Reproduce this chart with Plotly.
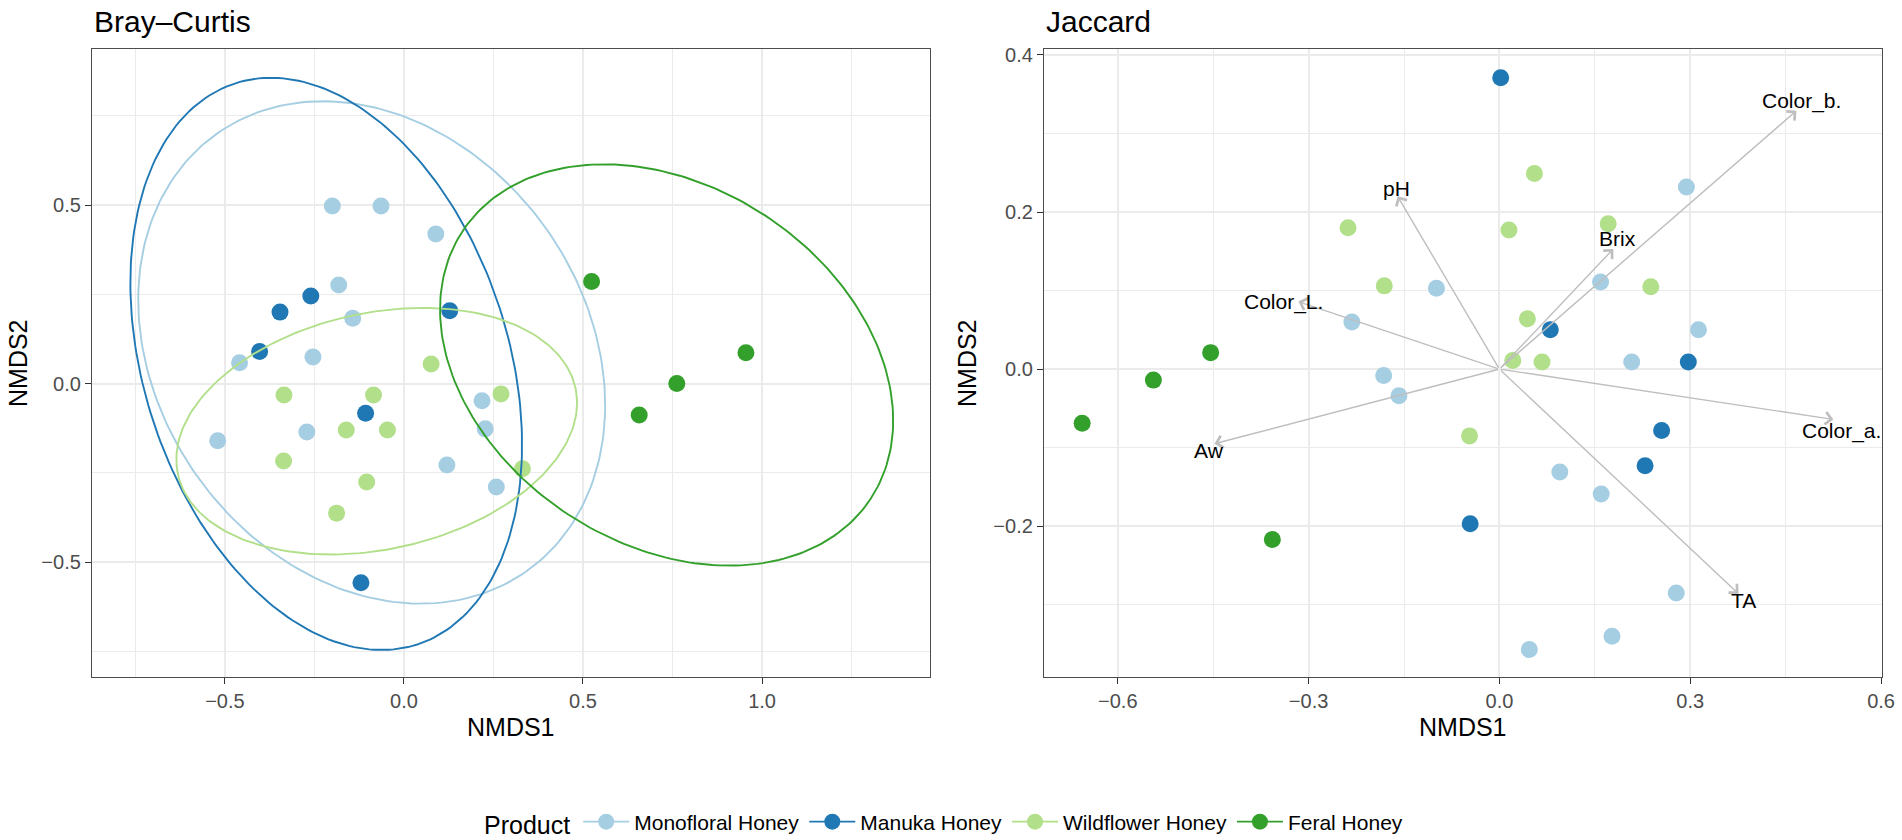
import numpy as np
import plotly.graph_objects as go

# ---------------- data ----------------
groups = ["Monofloral Honey", "Manuka Honey", "Wildflower Honey", "Feral Honey"]
colors = ["#A6CEE3", "#1F78B4", "#B2DF8A", "#33A02C"]

# Bray-Curtis NMDS scores
bc_mono_x = [-0.200, -0.064, 0.089, -0.182, -0.143, -0.459, -0.254, 0.218, 0.227, -0.520, -0.271, 0.120, 0.258]
bc_mono_y = [0.497, 0.497, 0.419, 0.276, 0.183, 0.058, 0.074, -0.048, -0.127, -0.160, -0.136, -0.228, -0.290]
bc_manuka_x = [-0.346, -0.260, -0.403, 0.128, -0.107, -0.120]
bc_manuka_y = [0.200, 0.245, 0.090, 0.204, -0.083, -0.558]
bc_wild_x = [0.076, -0.335, -0.085, 0.271, -0.161, -0.046, -0.336, -0.104, -0.188, 0.331]
bc_wild_y = [0.055, -0.032, -0.032, -0.029, -0.130, -0.130, -0.217, -0.276, -0.363, -0.239]
bc_feral_x = [0.524, 0.955, 0.762, 0.657]
bc_feral_y = [0.286, 0.086, 0.000, -0.088]

# 95% ellipses (center, semi-axes, rotation in degrees) per group, Bray-Curtis
ell_cx = [-0.090, -0.217, -0.076, 0.7335]
ell_cy = [0.087, 0.055, -0.1335, 0.052]
ell_a = [0.750, 0.826, 0.568, 0.682]
ell_b = [0.598, 0.509, 0.331, 0.501]
ell_angle = [-55.0, -72.1, 12.3, -33.4]

# Jaccard NMDS scores
jc_mono_x = [0.294, -0.099, 0.159, 0.313, 0.208, 0.095, 0.160, 0.278, -0.232, -0.182, -0.158, 0.047, 0.177]
jc_mono_y = [0.232, 0.103, 0.111, 0.050, 0.009, -0.131, -0.159, -0.285, 0.060, -0.008, -0.034, -0.357, -0.340]
jc_manuka_x = [0.002, 0.080, 0.297, 0.255, 0.229, -0.046]
jc_manuka_y = [0.371, 0.050, 0.009, -0.078, -0.123, -0.197]
jc_wild_x = [0.055, 0.015, 0.171, 0.238, 0.044, 0.021, 0.067, -0.047, -0.238, -0.181]
jc_wild_y = [0.249, 0.177, 0.185, 0.105, 0.064, 0.011, 0.009, -0.085, 0.180, 0.106]
jc_feral_x = [-0.454, -0.544, -0.656, -0.357]
jc_feral_y = [0.021, -0.014, -0.069, -0.217]

# environmental vectors (Jaccard)
vec_names = ["Color_b.", "Brix", "pH", "Color_L.", "Aw", "Color_a.", "TA"]
vec_x = [0.467, 0.179, -0.160, -0.316, -0.448, 0.525, 0.376]
vec_y = [0.329, 0.153, 0.220, 0.086, -0.095, -0.064, -0.286]
lab_x = [0.475, 0.185, -0.162, -0.340, -0.457, 0.538, 0.384]
lab_y = [0.341, 0.166, 0.230, 0.085, -0.104, -0.079, -0.294]

# axes
bc_xrange = [-0.871, 1.469]
bc_yrange = [-0.822, 0.937]
bc_xticks = [-0.5, 0.0, 0.5, 1.0]
bc_xticktext = ["\u22120.5", "0.0", "0.5", "1.0"]
bc_yticks = [-0.5, 0.0, 0.5]
bc_yticktext = ["\u22120.5", "0.0", "0.5"]
bc_xminor = [-0.75, -0.25, 0.25, 0.75, 1.25]
bc_yminor = [-0.75, -0.25, 0.25, 0.75]

jc_xrange = [-0.716, 0.6015]
jc_yrange = [-0.392, 0.4076]
jc_xticks = [-0.6, -0.3, 0.0, 0.3, 0.6]
jc_xticktext = ["\u22120.6", "\u22120.3", "0.0", "0.3", "0.6"]
jc_yticks = [-0.2, 0.0, 0.2, 0.4]
jc_yticktext = ["\u22120.2", "0.0", "0.2", "0.4"]
jc_xminor = [-0.45, -0.15, 0.15, 0.45]
jc_yminor = [-0.3, -0.1, 0.1, 0.3]

# ---------------- figure ----------------
W, H = 1902, 840
FONT = "Liberation Sans, Arial, Helvetica, sans-serif"
fig = go.Figure()

bc_sets = [(bc_mono_x, bc_mono_y), (bc_manuka_x, bc_manuka_y), (bc_wild_x, bc_wild_y), (bc_feral_x, bc_feral_y)]
jc_sets = [(jc_mono_x, jc_mono_y), (jc_manuka_x, jc_manuka_y), (jc_wild_x, jc_wild_y), (jc_feral_x, jc_feral_y)]

MS = 17
LW = 1.9
for i, g in enumerate(groups):
    xs, ys = bc_sets[i]
    fig.add_trace(go.Scatter(x=xs, y=ys, mode="markers", xaxis="x", yaxis="y",
                             marker=dict(size=MS, color=colors[i], line=dict(width=0)),
                             showlegend=False, legendgroup=g, hoverinfo="skip"))
for i, g in enumerate(groups):
    t = np.linspace(0, 2 * np.pi, 241)
    th = np.deg2rad(ell_angle[i])
    ex = ell_cx[i] + ell_a[i] * np.cos(t) * np.cos(th) - ell_b[i] * np.sin(t) * np.sin(th)
    ey = ell_cy[i] + ell_a[i] * np.cos(t) * np.sin(th) + ell_b[i] * np.sin(t) * np.cos(th)
    fig.add_trace(go.Scatter(x=ex, y=ey, mode="lines", xaxis="x", yaxis="y",
                             line=dict(color=colors[i], width=LW),
                             showlegend=False, legendgroup=g, hoverinfo="skip"))
for i, g in enumerate(groups):
    xs, ys = jc_sets[i]
    fig.add_trace(go.Scatter(x=xs, y=ys, mode="markers", xaxis="x2", yaxis="y2",
                             marker=dict(size=MS, color=colors[i], line=dict(width=0)),
                             showlegend=False, legendgroup=g, hoverinfo="skip"))
# legend entries (point + line key)
for i, g in enumerate(groups):
    fig.add_trace(go.Scatter(x=[None], y=[None], mode="lines+markers", name=g,
                             xaxis="x", yaxis="y",
                             marker=dict(size=MS, color=colors[i]),
                             line=dict(color=colors[i], width=LW),
                             legendgroup=g))

annotations = []
for i, n in enumerate(vec_names):
    annotations.append(dict(x=vec_x[i], y=vec_y[i], ax=0, ay=0, xref="x2", yref="y2",
                            axref="x2", ayref="y2", text="", showarrow=True,
                            arrowhead=4, arrowsize=1.7, arrowwidth=1.4,
                            arrowcolor="#BEBEBE", standoff=0, startstandoff=0))
for i, n in enumerate(vec_names):
    annotations.append(dict(x=lab_x[i], y=lab_y[i], xref="x2", yref="y2", text=n,
                            showarrow=False, xanchor="center", yanchor="middle",
                            font=dict(family=FONT, size=21, color="black")))

def px(x):
    return x / W

def py(y):
    return (H - y) / H

# titles and axis titles
annotations += [
    dict(x=px(92), y=py(21), xref="paper", yref="paper", text="Bray\u2013Curtis", showarrow=False,
         xanchor="left", yanchor="middle", font=dict(family=FONT, size=30, color="black")),
    dict(x=px(1044), y=py(21), xref="paper", yref="paper", text="Jaccard", showarrow=False,
         xanchor="left", yanchor="middle", font=dict(family=FONT, size=30, color="black")),
    dict(x=px(511), y=py(727), xref="paper", yref="paper", text="NMDS1", showarrow=False,
         xanchor="center", yanchor="middle", font=dict(family=FONT, size=25, color="black")),
    dict(x=px(1463), y=py(727), xref="paper", yref="paper", text="NMDS1", showarrow=False,
         xanchor="center", yanchor="middle", font=dict(family=FONT, size=25, color="black")),
    dict(x=px(18), y=py(363), xref="paper", yref="paper", text="NMDS2", showarrow=False,
         textangle=-90, xanchor="center", yanchor="middle", font=dict(family=FONT, size=25, color="black")),
    dict(x=px(967), y=py(363), xref="paper", yref="paper", text="NMDS2", showarrow=False,
         textangle=-90, xanchor="center", yanchor="middle", font=dict(family=FONT, size=25, color="black")),
]

GRID = "#EBEBEB"
BORDER = "#4D4D4D"

def axis(domain, rng, tickvals, ticktext, minor, anchor):
    return dict(domain=domain, range=rng, tickmode="array", tickvals=tickvals, ticktext=ticktext,
                ticks="outside", ticklen=6, tickwidth=1.3, tickcolor="#333333",
                tickfont=dict(family=FONT, size=20, color="#4D4D4D"),
                showgrid=True, gridcolor=GRID, gridwidth=1.8,
                minor=dict(tickvals=minor, showgrid=True, gridcolor=GRID, gridwidth=0.9, ticks=""),
                showline=True, mirror=True, linecolor=BORDER, linewidth=1.3,
                zeroline=False, anchor=anchor, fixedrange=True)

fig.update_layout(
    width=W, height=H,
    margin=dict(l=0, r=0, t=0, b=0, autoexpand=False),
    paper_bgcolor="white", plot_bgcolor="white",
    font=dict(family=FONT, color="black"),
    xaxis=axis([px(92), px(930)], bc_xrange, bc_xticks, bc_xticktext, bc_xminor, "y"),
    yaxis=axis([py(677), py(49)], bc_yrange, bc_yticks, bc_yticktext, bc_yminor, "x"),
    xaxis2=axis([px(1044), px(1882)], jc_xrange, jc_xticks, jc_xticktext, jc_xminor, "y2"),
    yaxis2=axis([py(677), py(49)], jc_yrange, jc_yticks, jc_yticktext, jc_yminor, "x2"),
    annotations=annotations,
    showlegend=True,
    legend=dict(orientation="h", x=px(945), xanchor="center", y=py(823), yanchor="middle",
                title=dict(text="Product", side="left", font=dict(family=FONT, size=25, color="black")),
                font=dict(family=FONT, size=21, color="black"),
                itemwidth=46, bgcolor="rgba(0,0,0,0)", tracegroupgap=0),
)

fig.write_html("out.html", config={"displayModeBar": False},
               post_script="document.body.style.margin='0';document.body.style.overflow='hidden';")
